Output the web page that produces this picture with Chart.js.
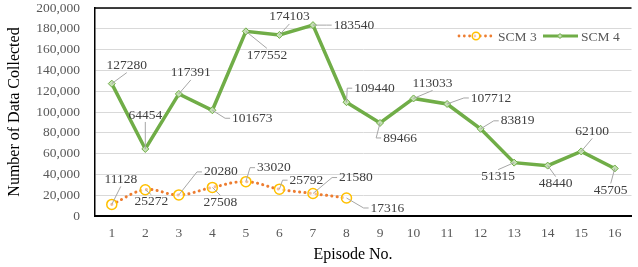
<!DOCTYPE html>
<html>
<head>
<meta charset="utf-8">
<script src="https://cdn.jsdelivr.net/npm/chart.js@4.4.1/dist/chart.umd.min.js"></script>
<style>
  html, body { margin: 0; padding: 0; background: #fff; }
  #wrap { width: 638px; height: 267px; }
</style>
</head>
<body>
<div id="wrap"><canvas id="chart" width="638" height="267"></canvas></div>
<script>
// DATA
const episodes = ['1', '2', '3', '4', '5', '6', '7', '8', '9', '10', '11', '12', '13', '14', '15', '16'];
const scm3 = [11128, 25272, 20280, 27508, 33020, 25792, 21580, 17316];
const scm4 = [127280, 64454, 117391, 101673, 177552, 174103, 183540, 109440, 89466, 113033, 107712, 83819, 51315, 48440, 62100, 45705];
const yMax = 200000;
const yStep = 20000;

// label offsets from the point (px), [dx, dy]
const scm3Offsets = [[9, -25], [6, 12], [42, -23], [8, 15], [28, -14], [27, -9], [43, -16], [41, 10]];
const scm4Offsets = [[15, -18], [0, -34], [12, -21], [40, 8], [21, 24], [10, -18], [41, 0], [28, -14],
  [20, 15], [19, -15], [44, -6], [37, -8], [-16, 14], [8, 18], [11, -20], [-4, 22]];
const labelOffsets = [scm3Offsets, scm4Offsets];

const FONT = '"Liberation Serif", "Times New Roman", serif';
const GREEN = '#70AD47';
const ORANGE = '#ED7D31';
const GOLD = '#FFC000';

// DATA LABELS WITH LEADER LINES
const labelPlugin = {
  id: 'dataLabels',
  afterDatasetsDraw(chart) {
    const ctx = chart.ctx;
    ctx.save();
    ctx.font = '13.5px ' + FONT;
    ctx.textAlign = 'center';
    ctx.textBaseline = 'middle';
    chart.data.datasets.forEach((ds, di) => {
      const meta = chart.getDatasetMeta(di);
      const offs = labelOffsets[di];
      meta.data.forEach((pt, i) => {
        const text = String(ds.data[i]);
        const dx = offs[i][0], dy = offs[i][1];
        const cx = pt.x + dx, cy = pt.y + dy;
        const hw = ctx.measureText(text).width / 2 + 2;
        const hh = 7;

        ctx.strokeStyle = '#A6A6A6';
        ctx.lineWidth = 1;
        ctx.beginPath();
        if (Math.abs(dx) > hw) {
          const s = Math.sign(dx);
          const ex = cx - s * hw;
          const len = Math.hypot(ex - pt.x, cy - pt.y);
          if (len > 7) {
            ctx.moveTo(pt.x, pt.y);
            ctx.lineTo(ex - s * 5, cy);
            ctx.lineTo(ex, cy);
          }
        } else {
          const ey = cy - Math.sign(dy) * hh;
          const len = Math.hypot(cx - pt.x, ey - pt.y);
          if (len > 7) {
            ctx.moveTo(pt.x, pt.y);
            ctx.lineTo(cx, ey);
          }
        }
        ctx.stroke();

        ctx.fillStyle = '#404040';
        ctx.fillText(text, cx, cy);
      });
    });
    ctx.restore();
  }
};

// FRAME, TITLES, LEGEND
const framePlugin = {
  id: 'frame',
  afterDraw(chart) {
    const ctx = chart.ctx;
    const a = chart.chartArea;
    ctx.save();
    ctx.strokeStyle = '#000';
    ctx.lineWidth = 1.5;
    ctx.beginPath();
    ctx.moveTo(a.left, a.top);
    ctx.lineTo(a.right, a.top);
    ctx.stroke();

    // axis titles
    ctx.fillStyle = '#000';
    ctx.font = '16px ' + FONT;
    ctx.textAlign = 'center';
    ctx.textBaseline = 'middle';
    ctx.fillText('Episode No.', 353, 255);
    ctx.save();
    ctx.translate(15, (a.top + a.bottom) / 2);
    ctx.rotate(-Math.PI / 2);
    ctx.fillText('Number of Data Collected', 0, 0);
    ctx.restore();

    // legend
    const ly = 36;
    ctx.fillStyle = ORANGE;
    for (let x = 459; x <= 491; x += 5.3) {
      ctx.beginPath();
      ctx.arc(x, ly, 1.4, 0, Math.PI * 2);
      ctx.fill();
    }
    ctx.beginPath();
    ctx.arc(476, ly, 3.8, 0, Math.PI * 2);
    ctx.fillStyle = 'rgba(255,255,255,0.6)';
    ctx.fill();
    ctx.strokeStyle = GOLD;
    ctx.lineWidth = 1.5;
    ctx.stroke();

    ctx.strokeStyle = GREEN;
    ctx.lineWidth = 3;
    ctx.beginPath();
    ctx.moveTo(543, ly);
    ctx.lineTo(578, ly);
    ctx.stroke();
    ctx.beginPath();
    ctx.moveTo(560, ly - 2.5);
    ctx.lineTo(562.5, ly);
    ctx.lineTo(560, ly + 2.5);
    ctx.lineTo(557.5, ly);
    ctx.closePath();
    ctx.fillStyle = '#C5E0B4';
    ctx.fill();
    ctx.lineWidth = 1;
    ctx.stroke();

    ctx.fillStyle = '#595959';
    ctx.font = '13.5px ' + FONT;
    ctx.textAlign = 'left';
    ctx.fillText('SCM 3', 498, ly + 1);
    ctx.fillText('SCM 4', 581, ly + 1);
    ctx.restore();
  }
};

const ctx = document.getElementById('chart');
new Chart(ctx, {
  type: 'line',
  data: {
    labels: episodes,
    datasets: [{
      label: 'SCM 3',
      data: scm3,
      borderColor: ORANGE,
      borderWidth: 3,
      borderDash: [0.1, 5.3],
      borderCapStyle: 'round',
      tension: 0.4,
      pointStyle: 'circle',
      pointRadius: 5,
      pointBorderWidth: 1.5,
      pointBorderColor: GOLD,
      pointBackgroundColor: 'rgba(255,255,255,0.5)',
      order: 1
    }, {
      label: 'SCM 4',
      data: scm4,
      borderColor: GREEN,
      borderWidth: 3.5,
      tension: 0,
      pointStyle: 'rectRot',
      pointRadius: 3.5,
      pointBorderWidth: 1,
      pointBorderColor: GREEN,
      pointBackgroundColor: '#C5E0B4',
      order: 0
    }]
  },
  options: {
    responsive: false,
    animation: false,
    devicePixelRatio: 1,
    layout: { padding: { top: 8, right: 0, bottom: 0, left: 0 } },
    plugins: {
      legend: { display: false },
      tooltip: { enabled: false }
    },
    scales: {
      x: {
        offset: true,
        grid: { display: false, drawTicks: false },
        border: { color: '#000', width: 2 },
        ticks: { color: '#595959', font: { family: FONT, size: 13.5 }, padding: 9 },
        afterFit: (scale) => { scale.height = 51; }
      },
      y: {
        min: 0,
        max: yMax,
        grid: { color: '#D9D9D9', lineWidth: 1, drawTicks: false },
        border: { color: '#000', width: 1.5 },
        ticks: {
          stepSize: yStep,
          color: '#595959',
          font: { family: FONT, size: 13.5 },
          padding: 15,
          callback: (v) => v.toLocaleString('en-US')
        },
        afterFit: (scale) => {
          scale.width = 95;
          scale.paddingTop = 0;
          scale.paddingBottom = 0;
        }
      }
    }
  },
  plugins: [labelPlugin, framePlugin]
});
</script>
</body>
</html>
